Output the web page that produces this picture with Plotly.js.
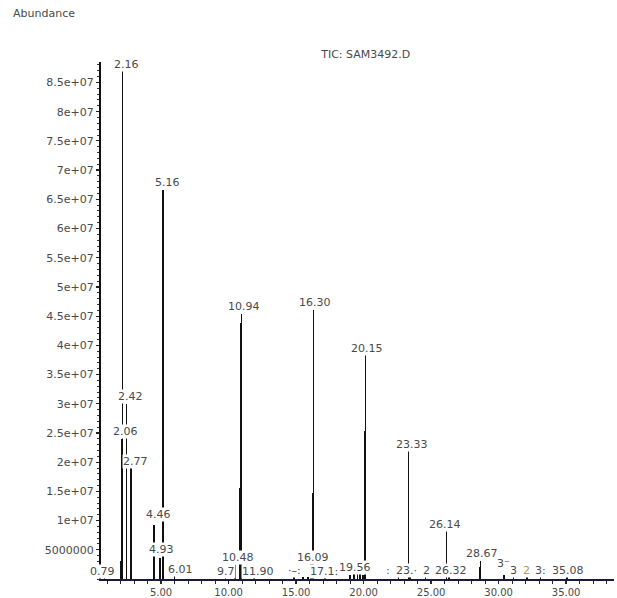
<!DOCTYPE html>
<html>
<head>
<meta charset="utf-8">
<script src="https://cdn.plot.ly/plotly-3.0.1.min.js"></script>
<style>html,body{margin:0;padding:0;background:#fff;}#chart{width:617px;height:598px;}</style>
</head>
<body>
<div id="chart"></div>
<script>
// Retention times (min) and abundances of the peaks in the TIC
const peakTimes = [0.79, 2.00, 2.06, 2.16, 2.42, 2.77, 4.46, 4.93, 5.12, 5.16, 6.01, 9.77, 10.48, 10.86, 10.90, 10.94, 11.90, 14.85, 15.50, 15.90, 16.09, 16.20, 16.30, 17.15, 19.00, 19.30, 19.56, 19.75, 19.95, 20.10, 20.15, 22.60, 23.33, 23.45, 24.60, 26.14, 26.32, 28.62, 28.67, 30.40, 31.10, 32.10, 33.10, 35.08];
const peakHeights = [900000, 3000000, 24000000, 87000000, 30000000, 19000000, 9200000, 3600000, 56500000, 66600000, 900000, 800000, 2400000, 15600000, 43800000, 45400000, 800000, 600000, 400000, 400000, 2500000, 14700000, 46100000, 800000, 600000, 900000, 1500000, 1100000, 700000, 25300000, 38400000, 400000, 22100000, 800000, 500000, 8200000, 800000, 2000000, 3100000, 600000, 500000, 500000, 500000, 600000];

// Peak labels as printed on the chromatogram (text, label centre time, label centre abundance)
const labelTexts = ["2.16", "5.16", "10.94", "16.30", "20.15", "23.33", "2.42", "2.06", "2.77", "4.46", "4.93", "0.79", "6.01", "10.48", "9.7", "11.90", "16.09", "17.1:", "19.56", "23.·", "2", "26.14", "26.32", "28.67", "3⁻", "3", "2", "3:", "35.08", "·–:", ":"];
const labelTimes = [2.41, 5.48, 11.15, 16.41, 20.24, 23.56, 2.70, 2.37, 3.07, 4.78, 5.05, 0.63, 6.41, 10.70, 9.78, 12.19, 16.26, 17.05, 19.37, 23.15, 24.63, 26.04, 26.48, 28.75, 30.33, 31.07, 32.10, 33.07, 35.15, 14.85, 21.80];
const labelLevels = [88000000, 67800000, 46600000, 47300000, 39400000, 23100000, 31200000, 25200000, 20200000, 11000000, 5000000, 1200000, 1700000, 3600000, 1200000, 1200000, 3700000, 1300000, 2050000, 1400000, 1400000, 9400000, 1400000, 4450000, 2700000, 1400000, 1400000, 1400000, 1400000, 1400000, 1400000];

// Axis ticks
const xTickVals = [5, 10, 15, 20, 25, 30, 35];
const xTickText = ["5.00", "10.00", "15.00", "20.00", "25.00", "30.00", "35.00"];
const yTickVals = [5000000, 10000000, 15000000, 20000000, 25000000, 30000000, 35000000, 40000000, 45000000, 50000000, 55000000, 60000000, 65000000, 70000000, 75000000, 80000000, 85000000];
const yTickText = ["5000000", "1e+07", "1.5e+07", "2e+07", "2.5e+07", "3e+07", "3.5e+07", "4e+07", "4.5e+07", "5e+07", "5.5e+07", "6e+07", "6.5e+07", "7e+07", "7.5e+07", "8e+07", "8.5e+07"];

const FONT = "DejaVu Sans, sans-serif";
const TXT = "#4a4a4a";

const trace = {
  type: "bar",
  x: peakTimes,
  y: peakHeights,
  width: 0.11,
  marker: {color: "#111111", line: {width: 0}},
  hoverinfo: "x+y"
};

const annotations = labelTexts.map((t, i) => ({
  x: labelTimes[i], y: labelLevels[i], xref: "x", yref: "y",
  text: t, showarrow: false, xanchor: "center", yanchor: "middle",
  bgcolor: "#ffffff", borderpad: 0,
  font: {family: FONT, size: 11, color: (t === "2" && i === 26) ? "#a89a50" : TXT}
}));

annotations.push({
  xref: "paper", yref: "paper", x: -0.176, y: 1.093,
  xanchor: "left", yanchor: "middle", showarrow: false,
  text: "Abundance", font: {family: FONT, size: 11, color: TXT}
});

const layout = {
  width: 617, height: 598,
  margin: {l: 101, r: 3, t: 62, b: 19, pad: 0},
  paper_bgcolor: "#ffffff", plot_bgcolor: "#ffffff",
  showlegend: false,
  bargap: 0,
  title: {
    text: "TIC: SAM3492.D",
    x: 0.516, xref: "paper", xanchor: "center",
    y: 0.909, yref: "container", yanchor: "middle",
    font: {family: FONT, size: 11, color: TXT}
  },
  xaxis: {
    range: [0.55, 38.55],
    tickmode: "array", tickvals: xTickVals, ticktext: xTickText,
    ticks: "outside", ticklen: 3, tickwidth: 1.2, tickcolor: "#22224a",
    minor: {tick0: 0, dtick: 1, ticks: "outside", ticklen: 3, tickwidth: 1, tickcolor: "#22224a", showgrid: false},
    showline: true, linecolor: "#1a1a3a", linewidth: 1.5,
    showgrid: false, zeroline: false,
    tickfont: {family: FONT, size: 10, color: TXT},
    fixedrange: true
  },
  yaxis: {
    range: [0, 88500000],
    tickmode: "array", tickvals: yTickVals, ticktext: yTickText,
    ticks: "outside", ticklen: 3, tickwidth: 1.2, tickcolor: "#222",
    minor: {tick0: 0, dtick: 1000000, ticks: "outside", ticklen: 2, tickwidth: 1, tickcolor: "#333", showgrid: false},
    showline: true, linecolor: "#111", linewidth: 2,
    showgrid: false, zeroline: false,
    tickfont: {family: FONT, size: 11, color: TXT},
    fixedrange: true
  },
  annotations: annotations
};

Plotly.newPlot("chart", [trace], layout, {staticPlot: true, displayModeBar: false});
</script>
</body>
</html>
